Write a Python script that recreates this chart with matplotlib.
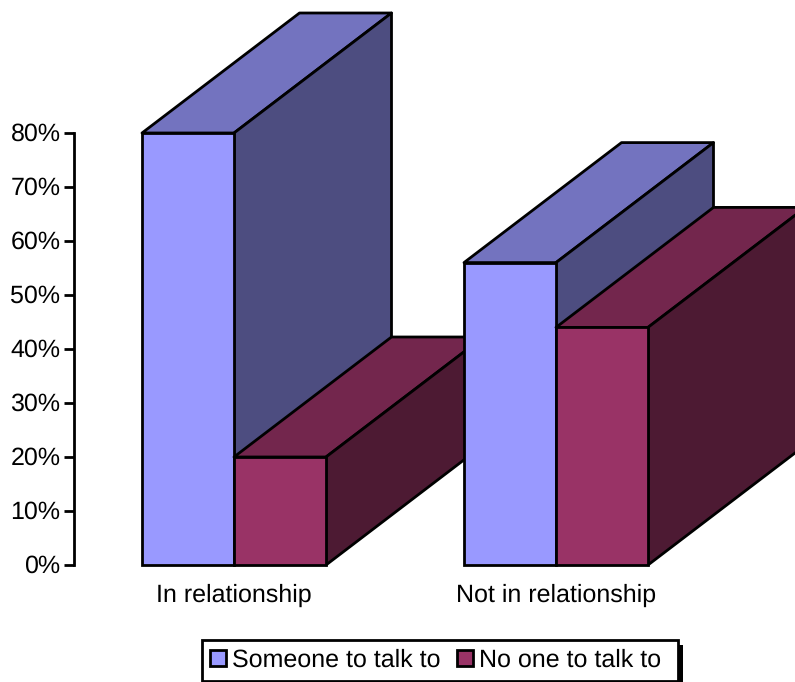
import matplotlib
matplotlib.use('Agg')
import matplotlib.pyplot as plt
from matplotlib.patches import Polygon, Rectangle

plt.rcParams['font.family'] = ['Liberation Sans', 'DejaVu Sans']
plt.rcParams['text.hinting'] = 'no_hinting'
plt.rcParams['text.hinting_factor'] = 1

# Data
categories = ['In relationship', 'Not in relationship']
someone = [80, 56]
no_one = [20, 44]
y_ticks = [0, 10, 20, 30, 40, 50, 60, 70, 80]
series_names = ['Someone to talk to', 'No one to talk to']

# Colours: front, top, side
blue = ('#9999ff', '#7373bf', '#4d4d80')
red = ('#993366', '#73264d', '#4d1a33')
EDGE = 'black'
LW = 2.0
FS = 18.2

# y runs in percent, x in pixels, so the 3D depth is an offset in both
fig = plt.figure(figsize=(7.95, 6.82), dpi=100)
ax = fig.add_axes([0, 0, 1, 1])
ax.set_xlim(0, 795)
PX = 5.4  # pixels per percent
ax.set_ylim(-(682 - 565) / PX, 565 / PX)
ax.axis('off')

group_left = [142, 464]
bar_w = 92
depth_x = 157.5
depth_y = 120 / PX


def box3d(x, value, colors, z):
    top = [(x, value), (x + bar_w, value),
           (x + bar_w + depth_x, value + depth_y), (x + depth_x, value + depth_y)]
    side = [(x + bar_w, 0), (x + bar_w + depth_x, depth_y),
            (x + bar_w + depth_x, value + depth_y), (x + bar_w, value)]
    ax.add_patch(Polygon(top, closed=True, fc=colors[1], ec=EDGE, lw=LW, zorder=z, joinstyle='round'))
    ax.add_patch(Polygon(side, closed=True, fc=colors[2], ec=EDGE, lw=LW, zorder=z, joinstyle='round'))
    ax.add_patch(Rectangle((x, 0), bar_w, value, fc=colors[0], ec=EDGE, lw=LW, zorder=z + 0.5))


for i, left in enumerate(group_left):
    box3d(left, someone[i], blue, 2 + 2 * i)
    box3d(left + bar_w, no_one[i], red, 3 + 2 * i)
    ax.text(left + bar_w, -(595.5 - 565) / PX, categories[i], fontsize=FS,
            ha='center', va='center', color='black')

# Value axis
ax.plot([74, 74], [y_ticks[0], y_ticks[-1]], color=EDGE, lw=LW, zorder=1,
        solid_capstyle='projecting')
for t in y_ticks:
    ax.plot([64, 74], [t, t], color=EDGE, lw=LW, zorder=1, solid_capstyle='butt')
    ax.text(60.5, t - 0.2, f'{t}%', fontsize=FS, ha='right', va='center', color='black')


def py(pixel_y):
    return (565 - pixel_y) / PX


# Legend box with its hard shadow
ax.add_patch(Rectangle((207, py(690)), 476, py(645) - py(690), fc='black', ec='none', zorder=10))
ax.add_patch(Rectangle((202, py(681)), 476, py(640) - py(681), fc='white', ec=EDGE, lw=LW, zorder=11))
legend_x = [210, 457]
for x, name, colors in zip(legend_x, series_names, (blue, red)):
    ax.add_patch(Rectangle((x, py(666)), 16, py(650) - py(666), fc=colors[0], ec=EDGE, lw=LW, zorder=12))
    ax.text(x + 22, py(660), name, fontsize=FS, ha='left', va='center', color='black', zorder=12)

fig.savefig('out.png', dpi=100)
